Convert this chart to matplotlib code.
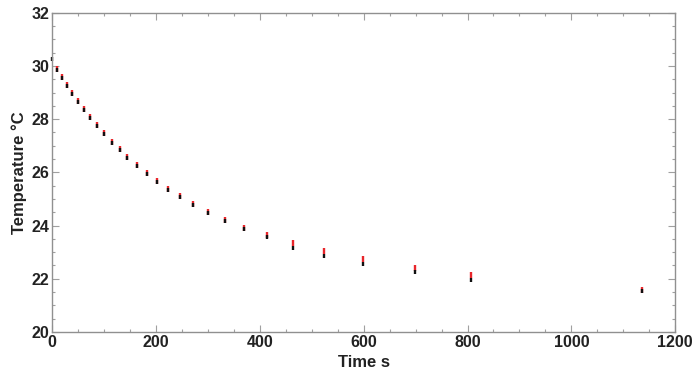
import matplotlib
matplotlib.use("Agg")
from matplotlib import pyplot as plt
from matplotlib.ticker import MultipleLocator

# cooling curve, two thermometers read at the same times
time_s = [0, 10, 19, 29, 39, 50, 61, 74, 87, 100, 115, 130, 145, 163, 182,
          202, 223, 246, 272, 301, 333, 370, 413, 463, 524, 599, 699, 807, 1135]
temp_black = [30.25, 29.84, 29.55, 29.24, 28.93, 28.63, 28.33, 28.03, 27.73,
              27.44, 27.12, 26.83, 26.54, 26.23, 25.93, 25.64, 25.35, 25.06,
              24.77, 24.47, 24.17, 23.87, 23.56, 23.15, 22.86, 22.56, 22.25,
              21.95, 21.55]
time_red = time_s[1:]
temp_red = [29.88, 29.59, 29.28, 28.97, 28.67, 28.37, 28.07, 27.77, 27.48,
            27.16, 26.87, 26.58, 26.27, 25.97, 25.68, 25.39, 25.10, 24.81,
            24.51, 24.21, 23.91, 23.64, 23.34, 23.04, 22.76, 22.42, 22.15,
            21.57]

plt.rcParams['font.family'] = ['Liberation Sans', 'DejaVu Sans']

fig = plt.figure(figsize=(6.94, 3.78), dpi=100)
ax = fig.add_axes([0.075, 0.122, 0.898, 0.844])

ax.plot(time_red, temp_red, linestyle='none', marker='|', markersize=4.5,
        markeredgewidth=1.7, color='#e8262b')
ax.plot(time_s, temp_black, linestyle='none', marker='|', markersize=2.5,
        markeredgewidth=1.7, color='#111111', clip_on=False)

ax.set_xlim(0, 1200)
ax.set_ylim(20, 32)
ax.xaxis.set_major_locator(MultipleLocator(200))
ax.xaxis.set_minor_locator(MultipleLocator(50))
ax.yaxis.set_major_locator(MultipleLocator(2))
ax.yaxis.set_minor_locator(MultipleLocator(0.5))

for s in ax.spines.values():
    s.set_color('#909090')
    s.set_linewidth(1.0)
ax.tick_params(which='both', direction='in', top=True, right=True,
               color='#a0a0a0', width=0.8)
ax.tick_params(which='major', length=5, labelsize=11.5, labelcolor='#222222',
               pad=2)
ax.tick_params(which='minor', length=2.5)
for lab in ax.get_xticklabels() + ax.get_yticklabels():
    lab.set_fontweight('bold')

ax.set_xlabel('Time s', fontsize=12, fontweight='bold', color='#222222',
              labelpad=4)
ax.set_ylabel('Temperature °C', fontsize=12, fontweight='bold',
              color='#222222', labelpad=3)

fig.savefig('out.png', dpi=100)
